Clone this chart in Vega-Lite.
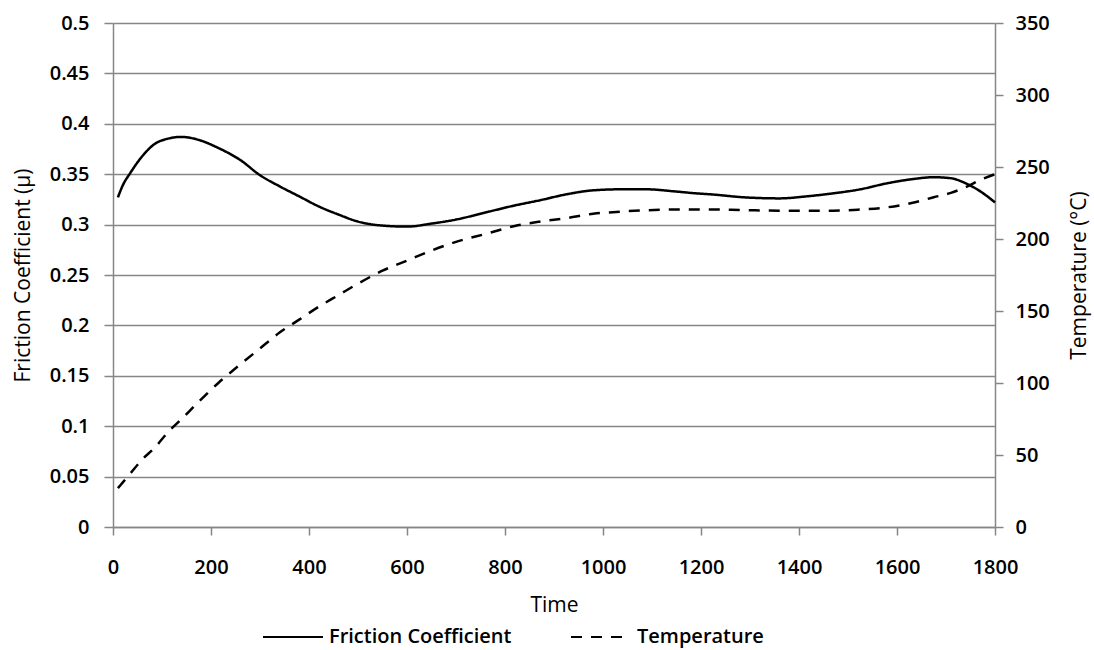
{
  "$schema": "https://vega.github.io/schema/vega-lite/v6.json",
  "autosize": "none",
  "width": 882,
  "height": 504,
  "padding": {"left": 113, "top": 23, "right": 99, "bottom": 123},
  "background": "white",
  "config": {
    "view": {"stroke": null},
    "font": "Open Sans",
    "axis": {
      "labelFont": "Open Sans",
      "labelFontSize": 20,
      "labelFontWeight": 600,
      "labelColor": "#000000",
      "titleFont": "Open Sans",
      "titleFontSize": 21,
      "titleFontWeight": 400,
      "titleColor": "#000000",
      "domainColor": "#868686",
      "domainWidth": 1.5,
      "tickColor": "#868686",
      "tickWidth": 1.5,
      "gridColor": "#868686",
      "gridWidth": 1.5,
      "gridOpacity": 1
    },
    "legend": {
      "labelFont": "Open Sans",
      "labelFontSize": 20,
      "labelFontWeight": 600,
      "labelColor": "#000000",
      "labelLimit": 400
    }
  },
  "data": {
    "values": [
      {"t": 10, "mu": 0.327, "temp": 27},
      {"t": 20, "mu": 0.339, "temp": 31},
      {"t": 35, "mu": 0.351, "temp": 37},
      {"t": 60, "mu": 0.368, "temp": 47},
      {"t": 85, "mu": 0.380, "temp": 55},
      {"t": 110, "mu": 0.385, "temp": 65},
      {"t": 140, "mu": 0.387, "temp": 75},
      {"t": 175, "mu": 0.384, "temp": 87},
      {"t": 215, "mu": 0.376, "temp": 100},
      {"t": 260, "mu": 0.364, "temp": 113},
      {"t": 300, "mu": 0.349, "temp": 124},
      {"t": 340, "mu": 0.338, "temp": 135},
      {"t": 380, "mu": 0.328, "temp": 144},
      {"t": 420, "mu": 0.318, "temp": 153},
      {"t": 460, "mu": 0.310, "temp": 161},
      {"t": 500, "mu": 0.303, "temp": 169},
      {"t": 550, "mu": 0.299, "temp": 178},
      {"t": 600, "mu": 0.298, "temp": 185},
      {"t": 650, "mu": 0.301, "temp": 192},
      {"t": 700, "mu": 0.305, "temp": 198},
      {"t": 760, "mu": 0.312, "temp": 203.5},
      {"t": 820, "mu": 0.319, "temp": 209},
      {"t": 870, "mu": 0.324, "temp": 212},
      {"t": 925, "mu": 0.330, "temp": 214.5},
      {"t": 980, "mu": 0.334, "temp": 217.5},
      {"t": 1035, "mu": 0.335, "temp": 219},
      {"t": 1090, "mu": 0.335, "temp": 220},
      {"t": 1145, "mu": 0.333, "temp": 220.5},
      {"t": 1190, "mu": 0.331, "temp": 220.5},
      {"t": 1220, "mu": 0.330, "temp": 220.5},
      {"t": 1290, "mu": 0.327, "temp": 220},
      {"t": 1360, "mu": 0.326, "temp": 219.7},
      {"t": 1415, "mu": 0.328, "temp": 219.7},
      {"t": 1470, "mu": 0.331, "temp": 219.7},
      {"t": 1525, "mu": 0.335, "temp": 220.5},
      {"t": 1580, "mu": 0.341, "temp": 222},
      {"t": 1630, "mu": 0.345, "temp": 225},
      {"t": 1675, "mu": 0.347, "temp": 229},
      {"t": 1710, "mu": 0.346, "temp": 232},
      {"t": 1740, "mu": 0.341, "temp": 236},
      {"t": 1770, "mu": 0.333, "temp": 241},
      {"t": 1800, "mu": 0.322, "temp": 245}
    ]
  },
  "encoding": {
    "x": {
      "field": "t",
      "type": "quantitative",
      "scale": {"domain": [0, 1800], "nice": false, "zero": false},
      "axis": {
        "title": "Time",
        "values": [0, 200, 400, 600, 800, 1000, 1200, 1400, 1600, 1800],
        "format": "d",
        "grid": false,
        "tickSize": 8,
        "labelPadding": 22,
        "titlePadding": 17,
        "labelFlush": false
      }
    }
  },
  "layer": [
    {
      "mark": {"type": "line", "color": "#000000", "strokeWidth": 2.5, "interpolate": "monotone"},
      "encoding": {
        "y": {
          "field": "mu",
          "type": "quantitative",
          "scale": {"domain": [0, 0.5], "nice": false},
          "axis": {
            "orient": "left",
            "title": "Friction Coefficient (µ)",
            "values": [0, 0.05, 0.1, 0.15, 0.2, 0.25, 0.3, 0.35, 0.4, 0.45, 0.5],
            "format": "~g",
            "grid": true,
            "tickSize": 9,
            "labelPadding": 15,
            "titlePadding": 16,
            "labelFlush": false
          }
        },
        "strokeDash": {
          "datum": "Friction Coefficient",
          "type": "nominal",
          "scale": {"domain": ["Friction Coefficient", "Temperature"], "range": [[1, 0], [11, 9]]},
          "legend": {
            "title": null,
            "orient": "none",
            "direction": "horizontal",
            "legendX": 149,
            "legendY": 583,
            "symbolType": "stroke",
            "symbolSize": 3600,
            "symbolStrokeWidth": 2,
            "symbolStrokeColor": "#000000",
            "labelOffset": 5,
            "columnPadding": 55
          }
        }
      }
    },
    {
      "mark": {"type": "line", "color": "#000000", "strokeWidth": 2.5, "interpolate": "monotone"},
      "encoding": {
        "y": {
          "field": "temp",
          "type": "quantitative",
          "scale": {"domain": [0, 350], "nice": false},
          "axis": {
            "orient": "right",
            "title": "Temperature (°C)",
            "titleAngle": 270,
            "values": [0, 50, 100, 150, 200, 250, 300, 350],
            "grid": false,
            "tickSize": 8,
            "labelPadding": 12,
            "titlePadding": 40,
            "labelFlush": false
          }
        },
        "strokeDash": {"datum": "Temperature", "type": "nominal"}
      }
    }
  ],
  "resolve": {"scale": {"y": "independent"}}
}
